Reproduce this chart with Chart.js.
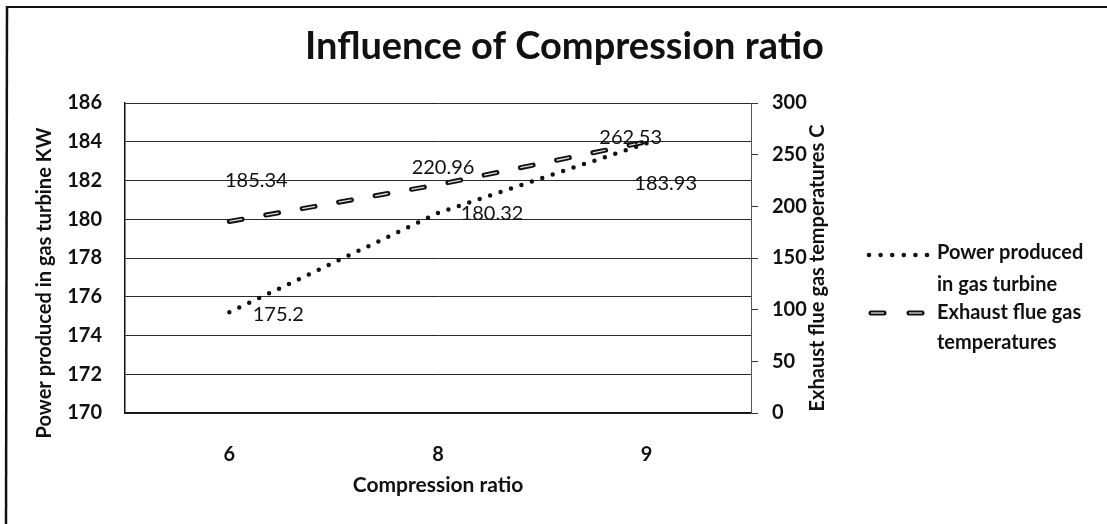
<!DOCTYPE html>
<html>
<head>
<meta charset="utf-8">
<title>Influence of Compression ratio</title>
<script src="https://cdn.jsdelivr.net/npm/chart.js@4/dist/chart.umd.min.js"></script>
<style>
  html, body { margin: 0; padding: 0; background: #fff; }
  #wrap { width: 1107px; height: 524px; }
</style>
</head>
<body>
<div id="wrap"><canvas id="chart" width="1107" height="524"></canvas></div>
<script>
// data
const categories = ['6', '8', '9'];
const powerKW = [175.2, 180.32, 183.93];
const exhaustTempC = [185.34, 220.96, 262.53];

const powerLegend = ['Power produced', 'in gas turbine'];
const exhaustLegend = ['Exhaust flue gas', 'temperatures'];

const FONT = 'Lato, "Open Sans", sans-serif';
const INK = '#111';

// the value labels were dragged around by hand in the original, so keep their shifts here
const labelShift = {
    power: [[49, 2], [54, 0], [19, 40]],
    exhaust: [[27, -41], [5, -17], [-16, -4]]
};

// outer frame of the chart object (top + left edge only, as in the scan)
const framePlugin = {
    id: 'frame',
    beforeDraw(chart) {
        const ctx = chart.ctx;
        ctx.save();
        ctx.strokeStyle = INK;
        ctx.lineWidth = 2;
        ctx.beginPath();
        ctx.moveTo(7, 7);
        ctx.lineTo(1107, 7);
        ctx.stroke();
        ctx.lineWidth = 2.5;
        ctx.beginPath();
        ctx.moveTo(7, 6);
        ctx.lineTo(6, 524);
        ctx.stroke();
        ctx.restore();
    }
};

// both axis titles read bottom-to-top, so draw them ourselves
const axisTitlePlugin = {
    id: 'axisTitles',
    afterDraw(chart) {
        const ctx = chart.ctx;
        const put = (text, x, y) => {
            ctx.save();
            ctx.translate(x, y);
            ctx.rotate(-Math.PI / 2);
            ctx.font = 'bold 20px ' + FONT;
            ctx.fillStyle = INK;
            ctx.textAlign = 'center';
            ctx.textBaseline = 'middle';
            ctx.fillText(text, 0, 0);
            ctx.restore();
        };
        put('Power produced in gas turbine KW', 45, 283);
        put('Exhaust flue gas temperatures C', 818, 268);
    }
};

const valueLabelPlugin = {
    id: 'valueLabels',
    afterDatasetsDraw(chart) {
        const ctx = chart.ctx;
        ctx.save();
        ctx.font = '20px ' + FONT;
        ctx.fillStyle = INK;
        ctx.textAlign = 'center';
        ctx.textBaseline = 'middle';
        const sets = [[0, powerKW, labelShift.power], [1, exhaustTempC, labelShift.exhaust]];
        sets.forEach(([idx, values, shift]) => {
            chart.getDatasetMeta(idx).data.forEach((pt, i) => {
                ctx.fillText(String(values[i]), pt.x + shift[i][0], pt.y + shift[i][1]);
            });
        });
        ctx.restore();
    }
};

// legend with wrapped labels
const legendPlugin = {
    id: 'sideLegend',
    afterDraw(chart) {
        const ctx = chart.ctx;
        ctx.save();
        ctx.font = 'bold 20px ' + FONT;
        ctx.fillStyle = INK;
        ctx.textAlign = 'left';
        ctx.textBaseline = 'middle';

        // dotted sample
        for (let i = 0; i < 6; i++) {
            ctx.beginPath();
            ctx.arc(869 + i * 11.6, 255, 2.3, 0, Math.PI * 2);
            ctx.fill();
        }
        ctx.fillText(powerLegend[0], 937, 253);
        ctx.fillText(powerLegend[1], 937, 285);

        // outlined dash sample
        [[871, 884], [909, 922]].forEach(([a, b]) => {
            ctx.lineCap = 'round';
            ctx.strokeStyle = INK;
            ctx.lineWidth = 5;
            ctx.beginPath();
            ctx.moveTo(a, 313);
            ctx.lineTo(b, 313);
            ctx.stroke();
            ctx.lineCap = 'butt';
            ctx.strokeStyle = '#ddd';
            ctx.lineWidth = 1.3;
            ctx.beginPath();
            ctx.moveTo(a, 313);
            ctx.lineTo(b, 313);
            ctx.stroke();
        });
        ctx.fillText(exhaustLegend[0], 937, 313);
        ctx.fillText(exhaustLegend[1], 937, 343);
        ctx.restore();
    }
};

const ctx = document.getElementById('chart').getContext('2d');
const chart = new Chart(ctx, {
    type: 'line',
    data: {
        labels: categories,
        datasets: [
            {
                label: powerLegend.join(' '),
                data: powerKW,
                yAxisID: 'y',
                order: 0,
                borderColor: INK,
                borderWidth: 4.5,
                borderDash: [0, 11],
                borderCapStyle: 'round',
                pointRadius: 0,
                tension: 0,
                fill: false
            },
            {
                label: exhaustLegend.join(' '),
                data: exhaustTempC,
                yAxisID: 'y1',
                order: 2,
                borderColor: INK,
                borderWidth: 5,
                borderDash: [13, 24],
                borderCapStyle: 'round',
                pointRadius: 0,
                tension: 0,
                fill: false
            },
            {
                // light core of the outlined dashes
                label: 'exhaust-core',
                data: exhaustTempC,
                yAxisID: 'y1',
                order: 1,
                borderColor: '#ddd',
                borderWidth: 1.3,
                borderDash: [13, 24],
                borderCapStyle: 'butt',
                pointRadius: 0,
                tension: 0,
                fill: false
            }
        ]
    },
    options: {
        responsive: false,
        animation: false,
        layout: { padding: { left: 22, right: 0, top: 0, bottom: 0 } },
        plugins: {
            legend: { display: false },
            tooltip: { enabled: false },
            title: {
                display: true,
                text: 'Influence of Compression ratio',
                color: INK,
                font: { family: FONT, size: 38, weight: 'bold' },
                padding: { top: 24, bottom: 33.4 }
            }
        },
        scales: {
            x: {
                offset: true,
                grid: { display: false },
                border: { display: true, color: INK, width: 1.5 },
                ticks: {
                    color: INK,
                    font: { family: FONT, size: 20, weight: 'bold' },
                    padding: 22
                },
                title: {
                    display: true,
                    text: 'Compression ratio',
                    color: INK,
                    font: { family: FONT, size: 21, weight: 'bold' },
                    padding: { top: 0, bottom: 26 }
                },
                afterFit(s) { s.height = 111; }
            },
            y: {
                position: 'left',
                min: 170,
                max: 186,
                ticks: {
                    stepSize: 2,
                    color: INK,
                    font: { family: FONT, size: 20, weight: 'bold' },
                    padding: 23
                },
                grid: { color: '#2a2a2a', lineWidth: 1, drawTicks: false },
                border: { display: true, color: INK, width: 1.5 },
                afterFit(s) { s.width = 103; }
            },
            y1: {
                position: 'right',
                min: 0,
                max: 300,
                ticks: {
                    stepSize: 50,
                    color: INK,
                    font: { family: FONT, size: 20, weight: 'bold' },
                    padding: 14
                },
                grid: { drawOnChartArea: false, drawTicks: true, tickLength: 7, tickColor: '#333' },
                border: { display: true, color: '#555', dash: [2, 2] },
                afterFit(s) { s.width = 356; }
            }
        }
    },
    plugins: [framePlugin, axisTitlePlugin, valueLabelPlugin, legendPlugin]
});
</script>
</body>
</html>
